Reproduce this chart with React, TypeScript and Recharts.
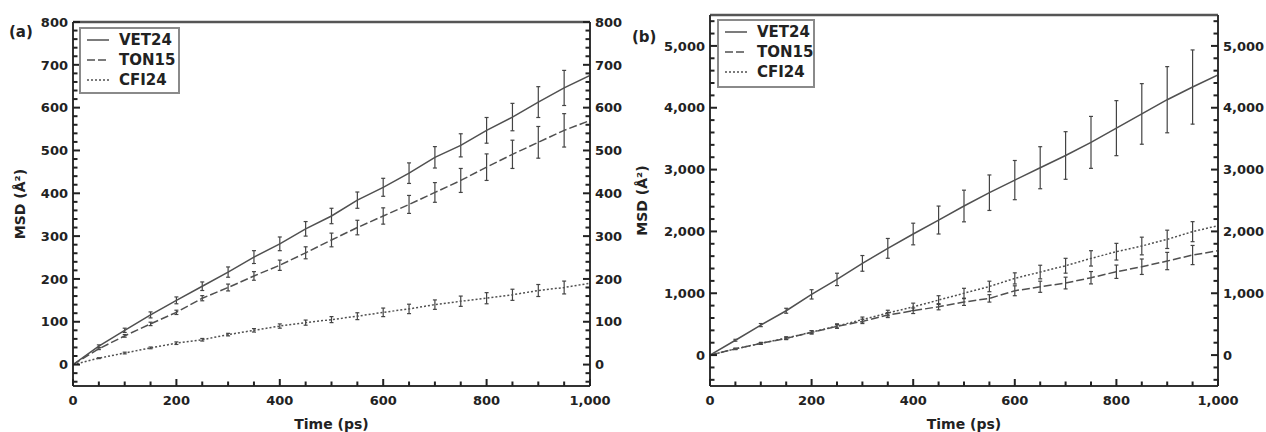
import React from 'react';
import { LineChart, Line, XAxis, YAxis, ErrorBar, ReferenceLine, Legend } from 'recharts';

// ---------- data ----------
const times = [0, 50, 100, 150, 200, 250, 300, 350, 400, 450, 500, 550, 600, 650, 700, 750, 800, 850, 900, 950, 1000];

// panel (a)
const vetA = [0, 43, 80, 116, 150, 183, 216, 251, 282, 317, 347, 384, 414, 447, 484, 512, 547, 578, 613, 646, 675];
const vetAErr = [null, 3, 5, 7, 8, 10, 12, 15, 16, 17, 18, 19, 21, 24, 25, 27, 30, 32, 36, 41, null];
const tonA = [0, 37, 67, 95, 122, 155, 180, 207, 232, 261, 291, 320, 347, 374, 402, 430, 461, 491, 519, 547, 570];
const tonAErr = [null, 2, 3, 4, 5, 6, 8, 10, 12, 14, 16, 17, 19, 21, 23, 28, 31, 33, 37, 39, null];
const cfiA = [0, 15, 27, 39, 50, 58, 70, 80, 90, 98, 105, 113, 122, 130, 140, 148, 155, 163, 173, 180, 190];
const cfiAErr = [null, 1, 2, 2, 3, 3, 3, 4, 5, 6, 7, 8, 10, 11, 11, 12, 13, 13, 14, 15, null];

// panel (b)
const vetB = [0, 240, 485, 717, 982, 1224, 1483, 1726, 1958, 2184, 2411, 2626, 2830, 3030, 3228, 3440, 3670, 3900, 4130, 4335, 4530];
const vetBErr = [null, 15, 25, 40, 75, 100, 127, 160, 175, 226, 256, 287, 317, 340, 385, 420, 445, 490, 535, 600, null];
const tonB = [0, 100, 189, 270, 367, 465, 545, 647, 717, 782, 858, 917, 1040, 1105, 1165, 1251, 1348, 1429, 1521, 1618, 1688];
const tonBErr = [null, 10, 15, 20, 25, 30, 35, 40, 45, 50, 55, 60, 80, 90, 95, 100, 108, 125, 140, 155, null];
const cfiB = [0, 100, 189, 275, 370, 470, 575, 680, 780, 890, 1000, 1110, 1240, 1343, 1445, 1564, 1672, 1764, 1872, 1996, 2093];
const cfiBErr = [null, 10, 15, 20, 25, 35, 40, 45, 60, 70, 80, 85, 90, 110, 120, 124, 135, 143, 148, 162, null];

// ticks / labels
const xMajorTicks = [0, 200, 400, 600, 800, 1000];
const yMajorTicksA = [0, 100, 200, 300, 400, 500, 600, 700, 800];
const yMajorTicksB = [0, 1000, 2000, 3000, 4000, 5000];
const seriesNames = ['VET24', 'TON15', 'CFI24'];
const dashes = [undefined, '8 3', '2 2'];

const range = (a: number, b: number, s: number) => {
  const out: number[] = [];
  for (let v = a; v <= b + 1e-9; v += s) out.push(Math.round(v));
  return out;
};
const xTicks = range(0, 1000, 50);
const yTicksA = range(-40, 800, 20);
const yTicksB = range(-400, 5400, 200);

const buildRows = (v: any[], ve: any[], t: any[], te: any[], c: any[], ce: any[]) =>
  times.map((tm, i) => ({ t: tm, vet: v[i], vetErr: ve[i], ton: t[i], tonErr: te[i], cfi: c[i], cfiErr: ce[i] }));

const dataA = buildRows(vetA, vetAErr, tonA, tonAErr, cfiA, cfiAErr);
const dataB = buildRows(vetB, vetBErr, tonB, tonBErr, cfiB, cfiBErr);

// ---------- styles ----------
const FONT = '"DejaVu Sans", "Liberation Sans", Arial, sans-serif';
const TEXT = '#222';
const AX = '#333';
const TK = '#222';
const LINE = '#505050';
const fmt = (v: number) => v.toLocaleString('en-US');

const makeYTick = (side: 'left' | 'right', majors: number[]) => (props: any) => {
  const { x, y, payload } = props;
  const v = payload.value;
  const major = majors.includes(v);
  const dir = side === 'left' ? 1 : -1;
  const len = major ? 7 : 4.5;
  return (
    <g>
      <path d={`M${x},${y}H${x + dir * len}`} stroke={TK} strokeWidth={2} fill="none" />
      {major && (
        <text
          x={side === 'left' ? x - 5 : x + 5}
          y={y}
          dy="0.36em"
          textAnchor={side === 'left' ? 'end' : 'start'}
          fontFamily={FONT}
          fontWeight="bold"
          fontSize={13}
          fill={TEXT}
        >
          {fmt(v)}
        </text>
      )}
    </g>
  );
};

const XTick = (props: any) => {
  const { x, y, payload } = props;
  const v = payload.value;
  const major = xMajorTicks.includes(v);
  return (
    <g>
      <path d={`M${x},${y}V${y - (major ? 7 : 4.5)}`} stroke={TK} strokeWidth={2} fill="none" />
      {major && (
        <text x={x} y={y + 19} textAnchor="middle" fontFamily={FONT} fontWeight="bold" fontSize={13} fill={TEXT}>
          {fmt(v)}
        </text>
      )}
    </g>
  );
};

const LegendBox = ({ w, h }: { w: number; h: number }) => (
  <div
    style={{
      width: w,
      height: h,
      boxSizing: 'border-box',
      border: '2px solid #8a8a8a',
      background: '#fff',
      position: 'relative',
    }}
  >
    {seriesNames.map((name, i) => (
      <div
        key={name}
        style={{ position: 'absolute', left: 6, top: 1 + i * 20, height: 20, display: 'flex', alignItems: 'center' }}
      >
        <svg width={22} height={4} style={{ display: 'block' }}>
          <line x1={0} y1={2} x2={22} y2={2} stroke={LINE} strokeWidth={1.5} strokeDasharray={dashes[i]} />
        </svg>
        <span style={{ marginLeft: 10, fontFamily: FONT, fontWeight: 'bold', fontSize: 15, color: TEXT, lineHeight: '20px' }}>
          {name}
        </span>
      </div>
    ))}
  </div>
);

type PanelProps = {
  data: any[];
  width: number;
  top: number;
  leftW: number;
  rightW: number;
  domain: [number, number];
  yTicks: number[];
  yMajors: number[];
  tag: string;
  tagX: number;
  tagY: number;
  titleX: number;
  legendPos: { left: number; top: number; w: number; h: number };
};

const Panel = (p: PanelProps) => {
  const plotLeft = p.leftW;
  const plotRight = p.width - p.rightW;
  const plotBottom = 386;
  const cx = (plotLeft + plotRight) / 2;
  const cy = (p.top + plotBottom) / 2;
  return (
    <LineChart width={p.width} height={432} data={p.data} margin={{ top: p.top, right: 0, bottom: 0, left: 0 }}>
      <ReferenceLine yAxisId="l" y={p.domain[1]} stroke="#555" strokeWidth={2.5} />
      <Line yAxisId="l" dataKey="cfi" stroke={LINE} strokeWidth={1.5} strokeDasharray={dashes[2]} dot={false} isAnimationActive={false}>
        <ErrorBar dataKey="cfiErr" width={2} stroke="#444" strokeWidth={1.2} direction="y" />
      </Line>
      <Line yAxisId="l" dataKey="ton" stroke={LINE} strokeWidth={1.5} strokeDasharray={dashes[1]} dot={false} isAnimationActive={false}>
        <ErrorBar dataKey="tonErr" width={2} stroke="#444" strokeWidth={1.2} direction="y" />
      </Line>
      <Line yAxisId="l" dataKey="vet" stroke={LINE} strokeWidth={1.5} dot={false} isAnimationActive={false}>
        <ErrorBar dataKey="vetErr" width={2} stroke="#444" strokeWidth={1.2} direction="y" />
      </Line>
      <XAxis
        dataKey="t"
        type="number"
        domain={[0, 1000]}
        ticks={xTicks}
        interval={0}
        tickSize={0}
        tickMargin={0}
        tickLine={false}
        axisLine={{ stroke: AX, strokeWidth: 2 }}
        tick={XTick}
        height={432 - plotBottom}
        allowDataOverflow
      />
      <YAxis
        yAxisId="l"
        type="number"
        domain={p.domain}
        ticks={p.yTicks}
        interval={0}
        width={p.leftW}
        tickSize={0}
        tickMargin={0}
        tickLine={false}
        axisLine={{ stroke: AX, strokeWidth: 2 }}
        tick={makeYTick('left', p.yMajors)}
        allowDataOverflow
      />
      <YAxis
        yAxisId="r"
        orientation="right"
        type="number"
        domain={p.domain}
        ticks={p.yTicks}
        interval={0}
        width={p.rightW}
        tickSize={0}
        tickMargin={0}
        tickLine={false}
        axisLine={{ stroke: AX, strokeWidth: 2 }}
        tick={makeYTick('right', p.yMajors)}
        allowDataOverflow
      />
      <Legend
        layout="vertical"
        align="center"
        verticalAlign="middle"
        wrapperStyle={{ left: p.legendPos.left, top: p.legendPos.top, width: p.legendPos.w, height: p.legendPos.h, margin: 0, padding: 0 }}
        content={() => <LegendBox w={p.legendPos.w} h={p.legendPos.h} />}
      />
      <text
        x={p.titleX}
        y={cy}
        transform={`rotate(-90 ${p.titleX} ${cy})`}
        textAnchor="middle"
        dy="0.35em"
        fontFamily={FONT}
        fontWeight="bold"
        fontSize={14}
        fill={TEXT}
      >
        MSD (Å²)
      </text>
      <text x={cx} y={429} textAnchor="middle" fontFamily={FONT} fontWeight="bold" fontSize={14} fill={TEXT}>
        Time (ps)
      </text>
      <text x={p.tagX} y={p.tagY} fontFamily={FONT} fontWeight="bold" fontSize={15} fill={TEXT}>
        {p.tag}
      </text>
    </LineChart>
  );
};

export default function App() {
  return (
    <div style={{ position: 'absolute', left: 0, top: 0, width: 1266, height: 432, background: '#fff' }}>
      <div style={{ position: 'absolute', left: 0, top: 0 }}>
        <Panel
          data={dataA}
          width={630}
          top={22}
          leftW={73}
          rightW={40}
          domain={[-50, 800]}
          yTicks={yTicksA}
          yMajors={yMajorTicksA}
          tag="(a)"
          tagX={9}
          tagY={37}
          titleX={20}
          legendPos={{ left: 79, top: 27, w: 101, h: 67 }}
        />
      </div>
      <div style={{ position: 'absolute', left: 630, top: 0 }}>
        <Panel
          data={dataB}
          width={636}
          top={15}
          leftW={80}
          rightW={48}
          domain={[-500, 5500]}
          yTicks={yTicksB}
          yMajors={yMajorTicksB}
          tag="(b)"
          tagX={2}
          tagY={42}
          titleX={12}
          legendPos={{ left: 87, top: 19, w: 98, h: 69 }}
        />
      </div>
    </div>
  );
}
